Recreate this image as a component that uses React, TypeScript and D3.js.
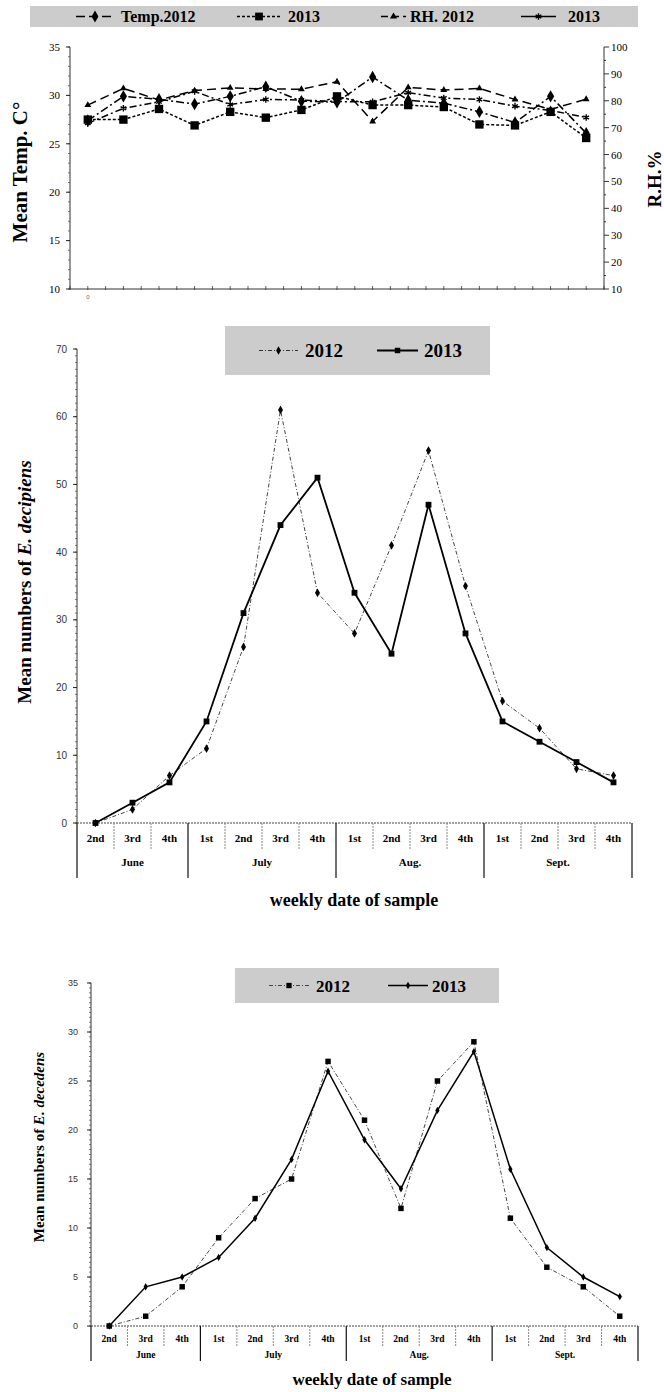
import React from "react";
import * as d3 from "d3";

// ---------- data ----------
const weekLabels = ["2nd", "3rd", "4th", "1st", "2nd", "3rd", "4th", "1st", "2nd", "3rd", "4th", "1st", "2nd", "3rd", "4th"];
const monthLabels = ["June", "July", "Aug.", "Sept."];
const monthWeekCounts = [3, 4, 4, 4];

const temp2012 = [27.4, 29.9, 29.6, 29.1, 29.9, 30.9, 29.4, 29.3, 31.9, 29.5, 29.2, 28.3, 27.2, 29.9, 26.1];
const temp2013 = [27.5, 27.5, 28.6, 26.9, 28.3, 27.7, 28.5, 29.9, 29.0, 29.0, 28.8, 27.0, 26.9, 28.3, 25.6];
const rh2012 = [78.4, 84.6, 80.3, 83.8, 84.8, 84.4, 84.3, 87.1, 72.3, 85.0, 84.0, 84.6, 80.5, 76.8, 80.6];
const rh2013 = [71.6, 77.2, 79.6, 83.5, 78.6, 80.5, 80.3, 79.7, 79.6, 83.0, 81.0, 80.5, 78.0, 76.4, 73.8];
const tempTicks = [10, 15, 20, 25, 30, 35];
const rhTicks = [10, 20, 30, 40, 50, 60, 70, 80, 90, 100];

const decipiens2012 = [0, 2, 7, 11, 26, 61, 34, 28, 41, 55, 35, 18, 14, 8, 7];
const decipiens2013 = [0, 3, 6, 15, 31, 44, 51, 34, 25, 47, 28, 15, 12, 9, 6];
const decipiensTicks = [0, 10, 20, 30, 40, 50, 60, 70];

const decedens2012 = [0, 1, 4, 9, 13, 15, 27, 21, 12, 25, 29, 11, 6, 4, 1];
const decedens2013 = [0, 4, 5, 7, 11, 17, 26, 19, 14, 22, 28, 16, 8, 5, 3];
const decedensTicks = [0, 5, 10, 15, 20, 25, 30, 35];

const SERIF = "'Liberation Serif', 'Times New Roman', serif";
const SANS = "'Liberation Sans', Arial, sans-serif";

type MarkerType = "diamond" | "square" | "triangle" | "star";

function Marker({ type, x, y, size }: { type: MarkerType; x: number; y: number; size: number }) {
  if (type === "star") {
    const p = d3.symbol(d3.symbolAsterisk, size)() as string;
    return <path d={p} transform={`translate(${x},${y})`} fill="none" stroke="#000" strokeWidth={1.4} />;
  }
  const sym = type === "diamond" ? d3.symbolDiamond : type === "square" ? d3.symbolSquare : d3.symbolTriangle;
  const p = d3.symbol(sym, size)() as string;
  return <path d={p} transform={`translate(${x},${y})`} fill="#000" />;
}

function Series({
  values,
  x,
  y,
  dash,
  width,
  color,
  marker,
  msize,
}: {
  values: number[];
  x: (i: number) => number;
  y: (v: number) => number;
  dash?: string;
  width: number;
  color: string;
  marker: MarkerType;
  msize: number;
}) {
  const line = d3
    .line<number>()
    .x((_, i) => x(i))
    .y((d) => y(d));
  return (
    <g>
      <path d={line(values) as string} fill="none" stroke={color} strokeWidth={width} strokeDasharray={dash} />
      {values.map((v, i) => (
        <Marker key={i} type={marker} x={x(i)} y={y(v)} size={msize} />
      ))}
    </g>
  );
}

function LegendItem({
  x1,
  x2,
  y,
  dash,
  width,
  color,
  marker,
  msize,
  label,
  fontSize,
  textX,
  baseline,
}: any) {
  return (
    <g>
      <line x1={x1} x2={x2} y1={y} y2={y} stroke={color} strokeWidth={width} strokeDasharray={dash} />
      <Marker type={marker} x={(x1 + x2) / 2} y={y} size={msize} />
      <text x={textX} y={baseline} fontFamily={SERIF} fontWeight="bold" fontSize={fontSize} fill="#000">
        {label}
      </text>
    </g>
  );
}

function CategoryTable({
  band,
  y0,
  weekBottom,
  monthBottom,
  weekBaseline,
  monthBaseline,
  fontSize,
}: {
  band: d3.ScaleBand<number>;
  y0: number;
  weekBottom: number;
  monthBottom: number;
  weekBaseline: number;
  monthBaseline: number;
  fontSize: number;
}) {
  const bw = band.bandwidth();
  const starts = d3.cumsum([0, ...monthWeekCounts]);
  const monthEdges = new Set(Array.from(starts));
  const [r0, r1] = band.range();
  return (
    <g>
      <line x1={r0} x2={r1} y1={y0} y2={y0} stroke="#444" strokeWidth={1} strokeDasharray="2,1" />
      {d3.range(16).map((k) => {
        const xx = r0 + k * bw;
        const isMonth = monthEdges.has(k);
        return (
          <line
            key={k}
            x1={xx}
            x2={xx}
            y1={y0}
            y2={isMonth ? monthBottom : weekBottom}
            stroke={isMonth ? "#111" : "#888"}
            strokeWidth={isMonth ? 1.2 : 1}
            strokeDasharray={isMonth ? undefined : "2,1"}
          />
        );
      })}
      {weekLabels.map((w, i) => (
        <text
          key={i}
          x={(band(i) as number) + bw / 2}
          y={weekBaseline}
          textAnchor="middle"
          fontFamily={SERIF}
          fontWeight="bold"
          fontSize={fontSize}
        >
          {w}
        </text>
      ))}
      {monthLabels.map((m, j) => {
        const a = r0 + starts[j] * bw;
        const b = r0 + starts[j + 1] * bw;
        return (
          <text key={m} x={(a + b) / 2} y={monthBaseline} textAnchor="middle" fontFamily={SERIF} fontWeight="bold" fontSize={fontSize}>
            {m}
          </text>
        );
      })}
    </g>
  );
}

function YAxis({
  scale,
  x,
  ticks,
  minorStep,
  fontSize,
  labelX,
  font,
  color,
}: {
  scale: d3.ScaleLinear<number, number>;
  x: number;
  ticks: number[];
  minorStep: number;
  fontSize: number;
  labelX: number;
  font: string;
  color: string;
}) {
  const [d0, d1] = scale.domain();
  const minors = d3.range(d0, d1 + 0.0001, minorStep);
  return (
    <g>
      <line x1={x} x2={x} y1={scale(d0)} y2={scale(d1)} stroke="#333" strokeWidth={1} />
      {minors.map((m, i) => (
        <line key={i} x1={x - 2} x2={x} y1={scale(m)} y2={scale(m)} stroke="#555" strokeWidth={0.8} />
      ))}
      {ticks.map((t) => (
        <g key={t}>
          <line x1={x - 4} x2={x} y1={scale(t)} y2={scale(t)} stroke="#222" strokeWidth={1} />
          <text x={labelX} y={scale(t) + fontSize * 0.35} textAnchor="end" fontFamily={font} fontSize={fontSize} fill={color}>
            {t}
          </text>
        </g>
      ))}
    </g>
  );
}

export default function App() {
  // ---------- top chart ----------
  const idx = d3.range(15);
  const topBand = d3.scaleBand<number>().domain(idx).range([70, 604]);
  const tx = (i: number) => (topBand(i) as number) + topBand.bandwidth() / 2;
  const tY = d3.scaleLinear().domain([10, 35]).range([289, 47]);
  const rY = d3.scaleLinear().domain([10, 100]).range([289, 47]);
  const topHalfTicks = d3.range(0, 30.001, 1).map((k) => 70 + (k * topBand.bandwidth()) / 2);

  // ---------- middle chart ----------
  const midBand = d3.scaleBand<number>().domain(idx).range([77, 632]);
  const mx = (i: number) => (midBand(i) as number) + midBand.bandwidth() / 2;
  const mY = d3.scaleLinear().domain([0, 70]).range([823, 349]);

  // ---------- bottom chart ----------
  const botBand = d3.scaleBand<number>().domain(idx).range([91, 638]);
  const bx = (i: number) => (botBand(i) as number) + botBand.bandwidth() / 2;
  const bY = d3.scaleLinear().domain([0, 35]).range([1326, 983]);

  return (
    <svg
      width={664}
      height={1392}
      viewBox="0 0 664 1392"
      style={{ position: "absolute", left: 0, top: 0, background: "#fff" }}
    >
      <rect x={0} y={0} width={664} height={1392} fill="#fff" />

      {/* ===== TOP CHART ===== */}
      <rect x={30} y={6} width={608} height={21} fill="#cccccc" />
      <LegendItem x1={76} x2={114} y={16.5} dash="9,4" width={1.5} color="#000" marker="diamond" msize={40} label="Temp.2012" fontSize={16} textX={121} baseline={22} />
      <LegendItem x1={237} x2={281} y={16.5} dash="3,2" width={1.5} color="#000" marker="square" msize={60} label="2013" fontSize={16} textX={288} baseline={22} />
      <LegendItem x1={381} x2={406} y={16.5} dash="7,4" width={1.5} color="#000" marker="triangle" msize={22} label="RH. 2012" fontSize={16} textX={410} baseline={22} />
      <LegendItem x1={521} x2={556} y={16.5} dash={undefined} width={1.5} color="#000" marker="star" msize={30} label="2013" fontSize={16} textX={568} baseline={22} />

      {/* axes */}
      <YAxis scale={tY} x={70} ticks={tempTicks} minorStep={1} fontSize={11} labelX={60} font={SERIF} color="#000" />
      <line x1={604} x2={604} y1={rY(10)} y2={rY(100)} stroke="#333" strokeWidth={1} />
      {d3.range(10, 100.001, 5).map((m) => (
        <line key={m} x1={604} x2={m % 10 === 0 ? 609 : 606} y1={rY(m)} y2={rY(m)} stroke="#333" strokeWidth={1} />
      ))}
      {rhTicks.map((t) => (
        <text key={t} x={611} y={rY(t) + 4} fontFamily={SERIF} fontSize={11} fill="#000">
          {t}
        </text>
      ))}
      <line x1={70} x2={604} y1={289} y2={289} stroke="#333" strokeWidth={1} />
      {topHalfTicks.map((xx, i) => (
        <line key={i} x1={xx} x2={xx} y1={286} y2={290} stroke="#333" strokeWidth={0.8} />
      ))}
      <text x={tx(0)} y={299} textAnchor="middle" fontFamily={SANS} fontSize={6} fill="#666">
        0
      </text>
      <text
        transform={`translate(27,172) rotate(-90)`}
        textAnchor="middle"
        fontFamily={SERIF}
        fontWeight="bold"
        fontSize={21}
      >
        Mean Temp. C°
      </text>
      <text
        transform={`translate(661,179) rotate(-90)`}
        textAnchor="middle"
        fontFamily={SERIF}
        fontWeight="bold"
        fontSize={19}
      >
        R.H.%
      </text>

      <Series values={rh2012} x={tx} y={rY} dash="9,5" width={1.5} color="#000" marker="triangle" msize={20} />
      <Series values={rh2013} x={tx} y={rY} dash="7,3,2,3" width={1.5} color="#000" marker="star" msize={30} />
      <Series values={temp2012} x={tx} y={tY} dash="8,3,2,3" width={1.5} color="#000" marker="diamond" msize={45} />
      <Series values={temp2013} x={tx} y={tY} dash="3,2" width={1.5} color="#000" marker="square" msize={70} />

      {/* ===== MIDDLE CHART ===== */}
      <rect x={225} y={326} width={265} height={49} fill="#cccccc" />
      <LegendItem x1={259} x2={298} y={350.5} dash="4,2,1,2" width={1} color="#333" marker="diamond" msize={20} label="2012" fontSize={19} textX={305} baseline={357} />
      <LegendItem x1={377} x2={418} y={350.5} dash={undefined} width={1.8} color="#000" marker="square" msize={30} label="2013" fontSize={19} textX={424} baseline={357} />

      <YAxis scale={mY} x={77} ticks={decipiensTicks} minorStep={1} fontSize={10} labelX={67} font={SANS} color="#333" />
      <CategoryTable band={midBand} y0={823} weekBottom={849} monthBottom={878} weekBaseline={842} monthBaseline={866} fontSize={11} />

      <Series values={decipiens2012} x={mx} y={mY} dash="4,2,1,2" width={1} color="#444" marker="diamond" msize={22} />
      <Series values={decipiens2013} x={mx} y={mY} width={1.8} color="#000" marker="square" msize={34} />

      <text transform={`translate(31,582) rotate(-90)`} textAnchor="middle" fontFamily={SERIF} fontWeight="bold" fontSize={19}>
        <tspan>Mean numbers of </tspan>
        <tspan fontStyle="italic">E. decipiens</tspan>
      </text>
      <text x={354} y={906} textAnchor="middle" fontFamily={SERIF} fontWeight="bold" fontSize={18}>
        weekly date of sample
      </text>

      {/* ===== BOTTOM CHART ===== */}
      <rect x={235} y={968} width={264} height={35} fill="#cccccc" />
      <LegendItem x1={269} x2={309} y={985.5} dash="4,2,1,2" width={1} color="#444" marker="square" msize={28} label="2012" fontSize={17} textX={316} baseline={991.5} />
      <LegendItem x1={388} x2={428} y={985.5} dash={undefined} width={1.5} color="#000" marker="diamond" msize={16} label="2013" fontSize={17} textX={432} baseline={991.5} />

      <YAxis scale={bY} x={91} ticks={decedensTicks} minorStep={0.5} fontSize={9} labelX={78} font={SANS} color="#333" />
      <CategoryTable band={botBand} y0={1326} weekBottom={1347} monthBottom={1361} weekBaseline={1342} monthBaseline={1358} fontSize={9.5} />

      <Series values={decedens2012} x={bx} y={bY} dash="4,2,1,2" width={1} color="#444" marker="square" msize={30} />
      <Series values={decedens2013} x={bx} y={bY} width={1.5} color="#000" marker="diamond" msize={16} />

      <text transform={`translate(44,1147) rotate(-90)`} textAnchor="middle" fontFamily={SERIF} fontWeight="bold" fontSize={15}>
        <tspan>Mean numbers of </tspan>
        <tspan fontStyle="italic">E. decedens</tspan>
      </text>
      <text x={372} y={1385} textAnchor="middle" fontFamily={SERIF} fontWeight="bold" fontSize={17}>
        weekly date of sample
      </text>
    </svg>
  );
}
